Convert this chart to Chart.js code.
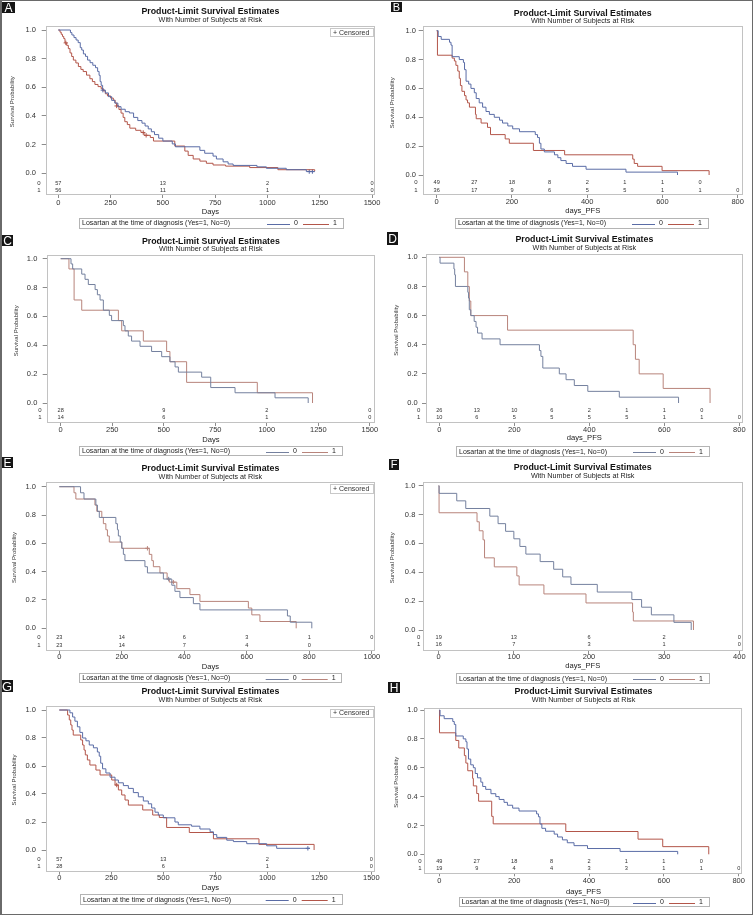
<!DOCTYPE html>
<html><head><meta charset="utf-8">
<script src="https://cdn.jsdelivr.net/npm/chart.js@4.4.1/dist/chart.umd.min.js"></script>
<style>
html,body{margin:0;padding:0;background:#fff;}
#fig{position:relative;width:753px;height:915px;overflow:hidden;background:#fff;}
#fig canvas{position:absolute;}
.badge{position:absolute;background:#151515;color:#fff;font-family:"Liberation Sans",Arial,sans-serif;display:flex;align-items:center;justify-content:center;z-index:5;line-height:1;}
#border{position:absolute;left:0;top:0;width:753px;height:915px;box-sizing:border-box;border:1px solid #6a6a6a;border-left-width:2px;z-index:6;pointer-events:none;}
</style></head><body>
<div id="fig"><div id="border"></div></div>
<script>
// ---------------- DATA ----------------
const groupLabels = ['0', '1'];
const yTicks = [0, 0.2, 0.4, 0.6, 0.8, 1.0];
const ticksDays = [0, 250, 500, 750, 1000, 1250, 1500];
const ticksPFS = [0, 200, 400, 600, 800];
const ticksDaysE = [0, 200, 400, 600, 800, 1000];
const ticksPFSF = [0, 100, 200, 300, 400];
const riskTimesDays = [0, 500, 1000, 1500];
const riskTimesPFS = [0, 100, 200, 300, 400, 500, 600, 700, 800];
const riskTimesE = [0, 200, 400, 600, 800, 1000];
const riskTimesF = [0, 100, 200, 300, 400];

// Panel A (overall survival)
const A0 = [[0,1],[58,0.982],[65,0.965],[75,0.947],[85,0.93],[95,0.912],[105,0.877],[112,0.86],[120,0.833],[130,0.816],[140,0.79],[152,0.772],[165,0.754],[178,0.737],[188,0.711],[195,0.684],[200,0.64],[205,0.614],[212,0.58],[225,0.561],[240,0.535],[255,0.509],[270,0.49],[285,0.465],[300,0.447],[320,0.43],[340,0.421],[360,0.39],[380,0.368],[400,0.35],[415,0.33],[430,0.31],[445,0.29],[460,0.27],[480,0.245],[500,0.225],[545,0.205],[560,0.185],[677,0.16],[700,0.14],[740,0.12],[756,0.1],[788,0.08],[812,0.065],[836,0.055],[950,0.045],[995,0.035],[1090,0.025],[1186,0.012],[1226,0.012]];
const A1 = [[0,1],[8,0.985],[14,0.97],[20,0.955],[26,0.94],[32,0.91],[40,0.893],[48,0.87],[56,0.84],[64,0.815],[72,0.79],[84,0.77],[96,0.745],[108,0.725],[119,0.71],[135,0.685],[151,0.66],[163,0.64],[175,0.62],[190,0.605],[205,0.59],[215,0.575],[225,0.555],[235,0.54],[250,0.525],[263,0.51],[272,0.49],[280,0.47],[290,0.445],[300,0.42],[310,0.39],[318,0.36],[330,0.34],[342,0.315],[370,0.3],[395,0.285],[410,0.265],[440,0.25],[455,0.225],[557,0.19],[605,0.155],[621,0.125],[645,0.1],[677,0.085],[708,0.07],[740,0.058],[800,0.05],[915,0.04],[1050,0.025],[1226,0.015]];
const A0cens = [[213,0.58],[1200,0.012],[1215,0.012]];
const A1cens = [[36,0.91],[279,0.47],[406,0.285],[420,0.265]];
const riskA0 = [57, 13, 2, 0];
const riskA1 = [56, 11, 1, 0];

// Panel B (PFS)
const B0 = [[0,1],[4,0.96],[12,0.94],[34,0.92],[38,0.9],[41,0.82],[60,0.8],[71,0.78],[74,0.73],[78,0.65],[85,0.63],[91,0.6],[100,0.57],[105,0.53],[113,0.5],[122,0.47],[131,0.44],[140,0.42],[153,0.4],[167,0.38],[175,0.36],[189,0.34],[202,0.32],[220,0.3],[262,0.28],[268,0.26],[273,0.22],[277,0.18],[286,0.16],[313,0.14],[322,0.12],[330,0.1],[344,0.08],[361,0.06],[397,0.04],[503,0.02],[640,0.0]];
const B1 = [[0,1],[2,0.83],[41,0.81],[47,0.79],[51,0.76],[56,0.72],[60,0.67],[63,0.62],[67,0.58],[74,0.55],[78,0.52],[82,0.5],[87,0.47],[103,0.42],[105,0.39],[118,0.36],[135,0.33],[143,0.28],[182,0.25],[193,0.22],[257,0.17],[340,0.14],[521,0.11],[525,0.08],[534,0.06],[599,0.03],[724,0.0]];
const riskB0 = [49, 27, 18, 8, 2, 1, 1, 0];
const riskB1 = [36, 17, 9, 6, 5, 5, 1, 1, 0];

// Panel C
const C0 = [[0,1],[50,0.964],[58,0.929],[102,0.893],[118,0.857],[134,0.821],[167,0.786],[178,0.75],[191,0.714],[207,0.643],[236,0.607],[247,0.571],[304,0.536],[312,0.5],[328,0.464],[344,0.429],[385,0.393],[441,0.357],[490,0.321],[530,0.286],[555,0.25],[571,0.214],[684,0.179],[728,0.107],[846,0.071],[1040,0.036],[1201,0.0]];
const C1 = [[0,1],[40,0.929],[65,0.714],[102,0.643],[280,0.571],[296,0.5],[401,0.429],[514,0.357],[530,0.286],[611,0.143],[954,0.071],[1222,0.0]];
const riskC0 = [28, 9, 2, 0];
const riskC1 = [14, 6, 1, 0];

// Panel D
const D0 = [[0,1],[2,0.96],[39,0.92],[41,0.88],[43,0.8],[76,0.76],[78,0.72],[80,0.64],[84,0.6],[93,0.56],[98,0.52],[102,0.48],[114,0.44],[162,0.4],[267,0.36],[271,0.32],[276,0.24],[320,0.2],[338,0.16],[360,0.12],[396,0.08],[480,0.04],[638,0.0]];
const D1 = [[0,1],[67,0.9],[76,0.8],[80,0.7],[84,0.6],[182,0.5],[517,0.4],[523,0.3],[533,0.2],[597,0.1],[722,0.0]];
const riskD0 = [26, 13, 10, 6, 2, 1, 1, 0];
const riskD1 = [10, 6, 5, 5, 5, 5, 1, 1, 0];

// Panel E
const E0 = [[0,1],[68,0.957],[79,0.913],[117,0.87],[122,0.826],[128,0.783],[181,0.739],[186,0.696],[189,0.652],[195,0.609],[200,0.565],[205,0.522],[210,0.478],[274,0.435],[282,0.391],[333,0.348],[360,0.304],[370,0.261],[386,0.217],[429,0.174],[450,0.13],[730,0.087],[739,0.043],[808,0.0]];
const E1 = [[0,1],[47,0.957],[53,0.913],[114,0.87],[120,0.826],[136,0.783],[141,0.739],[149,0.696],[154,0.652],[160,0.609],[200,0.565],[288,0.522],[296,0.478],[301,0.435],[322,0.391],[345,0.348],[352,0.326],[376,0.28],[418,0.238],[450,0.19],[605,0.143],[616,0.095],[642,0.048],[758,0.0]];
const E0cens = [[350,0.348]];
const E1cens = [[282,0.565],[365,0.326]];
const riskE0 = [23, 14, 6, 3, 1, 0];
const riskE1 = [23, 14, 7, 4, 0];

// Panel F
const F0 = [[0,1],[0.5,0.947],[24,0.895],[36,0.842],[68,0.789],[79,0.737],[89,0.684],[100,0.632],[108,0.579],[116,0.526],[135,0.474],[153,0.421],[165,0.368],[176,0.316],[211,0.263],[257,0.211],[270,0.158],[283,0.105],[313,0.053],[336,0.0]];
const F1 = [[0,1],[0.5,0.8125],[51,0.75],[54,0.6875],[59,0.625],[61,0.5],[74,0.4375],[104,0.375],[107,0.3125],[140,0.25],[196,0.1875],[258,0.125],[259,0.0625],[339,0.0]];
const riskF0 = [19, 13, 6, 2, 0];
const riskF1 = [16, 7, 3, 1, 0];

// Panel G
const G0 = [[0,1],[51,0.98],[64,0.95],[75,0.92],[87,0.88],[99,0.84],[112,0.8],[128,0.78],[144,0.75],[164,0.73],[183,0.7],[192,0.67],[199,0.62],[208,0.58],[224,0.55],[244,0.52],[268,0.5],[284,0.48],[308,0.46],[332,0.44],[356,0.41],[380,0.38],[404,0.35],[428,0.33],[444,0.3],[460,0.27],[476,0.25],[500,0.23],[556,0.2],[572,0.18],[636,0.17],[676,0.15],[725,0.13],[741,0.11],[757,0.09],[805,0.07],[837,0.06],[901,0.045],[997,0.03],[1045,0.012],[1205,0.012]];
const G1 = [[0,1],[40,0.964],[48,0.929],[55,0.893],[61,0.857],[67,0.821],[103,0.786],[112,0.75],[119,0.714],[125,0.679],[135,0.643],[147,0.607],[176,0.571],[196,0.536],[252,0.5],[268,0.464],[284,0.429],[300,0.393],[316,0.357],[332,0.321],[401,0.286],[449,0.25],[481,0.232],[516,0.161],[625,0.125],[741,0.08],[960,0.04],[1225,0.0]];
const G0cens = [[1195,0.012]];
const G1cens = [[276,0.464]];
const riskG0 = [57, 13, 2, 0];
const riskG1 = [28, 6, 1, 0];

// Panel H
const H0 = [[0,1],[2,0.96],[13,0.94],[36,0.92],[40,0.9],[44,0.82],[64,0.8],[71,0.78],[74,0.73],[78,0.66],[84,0.62],[91,0.6],[96,0.56],[102,0.53],[111,0.5],[116,0.47],[124,0.45],[138,0.42],[151,0.4],[160,0.38],[173,0.36],[182,0.34],[196,0.32],[213,0.3],[260,0.28],[265,0.26],[269,0.21],[274,0.18],[284,0.16],[307,0.14],[316,0.12],[329,0.1],[342,0.08],[360,0.06],[396,0.04],[483,0.02],[637,0.0]];
const H1 = [[0,1],[0.5,0.842],[44,0.789],[52,0.737],[67,0.684],[71,0.632],[76,0.579],[89,0.526],[91,0.474],[100,0.421],[105,0.368],[140,0.263],[144,0.211],[338,0.158],[531,0.105],[597,0.053],[720,0.0]];
const riskH0 = [49, 27, 18, 8, 2, 1, 1, 0];
const riskH1 = [19, 9, 4, 4, 3, 3, 1, 1, 0];

// ---------------- TEXT ----------------
const TITLE = 'Product-Limit Survival Estimates';
const SUBTITLE = 'With Number of Subjects at Risk';
const Y_TITLE = 'Survival Probability';
const LEGEND_TITLE = 'Losartan at the time of diagnosis (Yes=1, No=0)';
const CENSORED = '+ Censored';

// ---------------- LAYOUT / STYLE ----------------
const FONT = '"Liberation Sans", Arial, sans-serif';
const FRAME = '#c2c2c2';
const COL_STRONG = ['#5a6ca6', '#b3564a'];
const COL_SOFT = ['#74809e', '#b8847b'];

const PANELS = [
 {key:'A', s0:A0, s1:A1, c0:A0cens, c1:A1cens, r0:riskA0, r1:riskA1, rt:riskTimesDays, xt:ticksDays, xTitle:'Days', col:COL_STRONG,
  cx:0,cy:0,cw:392,ch:230,L:45.7,T:26,R:375,B:195,x0px:58.3,xr:1500,xrpx:372,y1px:30,y0px:173.3,titleY:11.7,subY:19.3,r0Y:183,r1Y:190.7,tickY:202.7,xTitleY:212.3,yTitleX:12.7,rowX:39,yLabR:36,leg:[79,218,343,228],cen:[330,28.3,373,36.7],badge:[2,2,13,11]},
 {key:'B', s0:B0, s1:B1, r0:riskB0, r1:riskB1, rt:riskTimesPFS, xt:ticksPFS, xTitle:'days_PFS', col:COL_STRONG,
  cx:376,cy:0,cw:377,ch:230,L:422.7,T:26,R:742.7,B:195,x0px:436.7,xr:800,xrpx:737.7,y1px:30.7,y0px:175,titleY:13.3,subY:20.7,r0Y:182.7,r1Y:190,tickY:201.7,xTitleY:210.7,yTitleX:392,rowX:416,yLabR:416,leg:[455,218,708,228],badge:[391,2,11,10]},
 {key:'C', s0:C0, s1:C1, r0:riskC0, r1:riskC1, rt:riskTimesDays, xt:ticksDays, xTitle:'Days', col:COL_SOFT,
  cx:0,cy:228,cw:392,ch:230,L:46.7,T:254.7,R:375,B:423,x0px:60.7,xr:1250,xrpx:318.3,y1px:258.7,y0px:403,titleY:241.3,subY:248,r0Y:410.7,r1Y:417.3,tickY:429.7,xTitleY:439.7,yTitleX:16,rowX:40,yLabR:37.3,leg:[79,446.3,342,455.7],badge:[2,235,11,11]},
 {key:'D', s0:D0, s1:D1, r0:riskD0, r1:riskD1, rt:riskTimesPFS, xt:ticksPFS, xTitle:'days_PFS', col:COL_SOFT,
  cx:376,cy:228,cw:377,ch:230,L:426,T:254,R:742.7,B:423,x0px:439.3,xr:800,xrpx:739.3,y1px:257.3,y0px:403,titleY:239.7,subY:247.3,r0Y:410.7,r1Y:417.3,tickY:429.7,xTitleY:438,yTitleX:396,rowX:418.7,yLabR:417.7,leg:[456,446.3,709,456],badge:[387,232,11,13]},
 {key:'E', s0:E0, s1:E1, c0:E0cens, c1:E1cens, r0:riskE0, r1:riskE1, rt:riskTimesE, xt:ticksDaysE, xTitle:'Days', col:COL_SOFT,
  cx:0,cy:455,cw:392,ch:230,L:45.7,T:482.3,R:375,B:651,x0px:59.3,xr:800,xrpx:309.3,y1px:486.7,y0px:628.3,titleY:469,subY:475.7,r0Y:637.7,r1Y:645,tickY:657.3,xTitleY:667.3,yTitleX:14,rowX:39,yLabR:36,leg:[79.3,673.3,341.7,682.7],cen:[330,484.3,373,493.3],badge:[2,457,11,11]},
 {key:'F', s0:F0, s1:F1, r0:riskF0, r1:riskF1, rt:riskTimesF, xt:ticksPFSF, xTitle:'days_PFS', col:COL_SOFT,
  cx:376,cy:455,cw:377,ch:230,L:422.7,T:482.3,R:742.7,B:651,x0px:438.7,xr:400,xrpx:739.3,y1px:485.7,y0px:630,titleY:467.7,subY:475,r0Y:637.7,r1Y:644.3,tickY:656.7,xTitleY:665.7,yTitleX:392.7,rowX:418.7,yLabR:415.3,leg:[456,673.3,709,683.3],badge:[389,459,10,11]},
 {key:'G', s0:G0, s1:G1, c0:G0cens, c1:G1cens, r0:riskG0, r1:riskG1, rt:riskTimesDays, xt:ticksDays, xTitle:'Days', col:COL_STRONG,
  cx:0,cy:683,cw:392,ch:232,L:45.7,T:705.7,R:375,B:871.7,x0px:59.3,xr:1250,xrpx:319.3,y1px:710,y0px:850,titleY:691.7,subY:699.3,r0Y:859,r1Y:866,tickY:878.3,xTitleY:888.3,yTitleX:14,rowX:39,yLabR:36,leg:[80,894.3,341.7,904.3],cen:[330,709,372.7,717],badge:[1,680,12,12]},
 {key:'H', s0:H0, s1:H1, r0:riskH0, r1:riskH1, rt:riskTimesPFS, xt:ticksPFS, xTitle:'days_PFS', col:COL_STRONG,
  cx:376,cy:683,cw:377,ch:232,L:424.3,T:707.7,R:742.7,B:873.3,x0px:439.3,xr:800,xrpx:738.7,y1px:710,y0px:854.3,titleY:691.7,subY:699.3,r0Y:861.7,r1Y:868.3,tickY:881,xTitleY:891.7,yTitleX:396.7,rowX:420,yLabR:417.7,leg:[458.7,897.3,709,906.7],badge:[388,682,12,11]}
];

const TITLE_SIZE = 8.8, SUB_SIZE = 7.2, TICK_SIZE = 7.5, XT_SIZE = 7.6, RISK_SIZE = 5.6;

function decorPlugin(p) {
  return {
    id: 'decor' + p.key,
    beforeDatasetsDraw(chart) {
      const {ctx, chartArea: a} = chart;
      ctx.save();
      ctx.strokeStyle = FRAME; ctx.lineWidth = 1;
      ctx.strokeRect(Math.round(a.left) + 0.5, Math.round(a.top) + 0.5, Math.round(a.right - a.left) - 1, Math.round(a.bottom - a.top) - 1);
      ctx.restore();
    },
    afterDraw(chart) {
      const {ctx, scales: {x, y}} = chart;
      const ox = p.cx, oy = p.cy;
      // y axis title
      ctx.save();
      ctx.fillStyle = '#333'; ctx.font = `6px ${FONT}`;
      ctx.textAlign = 'center'; ctx.textBaseline = 'middle';
      ctx.translate(p.yTitleX - ox, (y.getPixelForValue(0) + y.getPixelForValue(1)) / 2);
      ctx.rotate(-Math.PI / 2);
      ctx.fillText(Y_TITLE, 0, 0);
      ctx.restore();
      // at-risk table
      ctx.save();
      ctx.fillStyle = '#333'; ctx.textAlign = 'center'; ctx.textBaseline = 'middle';
      ctx.font = `6px ${FONT}`;
      ctx.fillText(groupLabels[0], p.rowX - ox, p.r0Y - oy);
      ctx.fillText(groupLabels[1], p.rowX - ox, p.r1Y - oy);
      ctx.font = `${RISK_SIZE}px ${FONT}`;
      p.r0.forEach((n, i) => ctx.fillText(String(n), x.getPixelForValue(p.rt[i]), p.r0Y - oy));
      p.r1.forEach((n, i) => ctx.fillText(String(n), x.getPixelForValue(p.rt[i]), p.r1Y - oy));
      ctx.restore();
      // legend
      const [l, t, r, b] = p.leg;
      ctx.save();
      ctx.strokeStyle = '#b4b4b4'; ctx.lineWidth = 1;
      ctx.strokeRect(Math.round(l - ox) + 0.5, Math.round(t - oy) + 0.5, Math.round(r - l), Math.round(b - t));
      const my = (t + b) / 2 - oy + 0.5;
      ctx.fillStyle = '#222'; ctx.font = `7px ${FONT}`; ctx.textBaseline = 'middle';
      ctx.textAlign = 'left';
      ctx.fillText(LEGEND_TITLE, l - ox + 3, my);
      ctx.textAlign = 'center';
      ctx.fillText(groupLabels[0], r - ox - 47, my);
      ctx.fillText(groupLabels[1], r - ox - 8, my);
      ctx.lineWidth = 1;
      ctx.strokeStyle = p.col[0];
      ctx.beginPath(); ctx.moveTo(r - ox - 76, Math.round(my) + 0.5); ctx.lineTo(r - ox - 53, Math.round(my) + 0.5); ctx.stroke();
      ctx.strokeStyle = p.col[1];
      ctx.beginPath(); ctx.moveTo(r - ox - 40, Math.round(my) + 0.5); ctx.lineTo(r - ox - 14, Math.round(my) + 0.5); ctx.stroke();
      ctx.restore();
      // censored inset legend
      if (p.cen) {
        const [cl, ct, cr, cb] = p.cen;
        ctx.save();
        ctx.strokeStyle = '#c8c8c8'; ctx.lineWidth = 1;
        ctx.strokeRect(Math.round(cl - ox) + 0.5, Math.round(ct - oy) + 0.5, Math.round(cr - cl), Math.round(cb - ct));
        ctx.fillStyle = '#333'; ctx.font = `7px ${FONT}`; ctx.textAlign = 'left'; ctx.textBaseline = 'middle';
        ctx.fillText(CENSORED, cl - ox + 3, (ct + cb) / 2 - oy + 0.5);
        ctx.restore();
      }
    }
  };
}

function kmSet(pairs, color, label) {
  return {label, data: pairs.map(([t, s]) => ({x: t, y: s})), borderColor: color, borderWidth: 1,
    stepped: true, pointRadius: 0, pointHoverRadius: 0, fill: false, tension: 0};
}
function censSet(pairs, color, label) {
  return {label, data: pairs.map(([t, s]) => ({x: t, y: s})), borderColor: color, backgroundColor: color,
    showLine: false, pointStyle: 'cross', pointRadius: 2.2, pointBorderWidth: 1, borderWidth: 1};
}

const fig = document.getElementById('fig');
PANELS.forEach(p => {
  const cv = document.createElement('canvas');
  cv.width = p.cw; cv.height = p.ch;
  cv.style.left = p.cx + 'px'; cv.style.top = p.cy + 'px';
  cv.style.width = p.cw + 'px'; cv.style.height = p.ch + 'px';
  fig.appendChild(cv);

  const L = p.L - p.cx, R = p.R - p.cx, T = p.T - p.cy, B = p.B - p.cy;
  const pxu = (p.xrpx - p.x0px) / p.xr;
  const xmin = -(p.x0px - p.L) / pxu, xmax = (p.R - p.x0px) / pxu;
  const pyu = p.y0px - p.y1px;
  const ymax = 1 + (p.y1px - p.T) / pyu, ymin = -(p.B - p.y0px) / pyu;

  const titleY = p.titleY - p.cy, subY = p.subY - p.cy;
  const tPadTop = titleY - TITLE_SIZE / 2;
  const titleH = titleY + TITLE_SIZE / 2;
  const sPadTop = Math.max(0, subY - SUB_SIZE / 2 - titleH);
  const sPadBot = Math.max(0, T - (titleH + sPadTop + SUB_SIZE));

  const xtLH = XT_SIZE * 1.2;
  const Hx = (p.xTitleY - p.cy) - B + xtLH / 2;
  const padBottom = p.ch - B - Hx;
  const tickPad = (p.tickY - p.cy) - B - 3 - TICK_SIZE / 2;
  const yTickLen = 4;
  const yTickPad = (p.L - p.yLabR) - yTickLen;

  const datasets = [kmSet(p.s0, p.col[0], groupLabels[0]), kmSet(p.s1, p.col[1], groupLabels[1])];
  if (p.c0) datasets.push(censSet(p.c0, p.col[0], 'cens0'));
  if (p.c1) datasets.push(censSet(p.c1, p.col[1], 'cens1'));

  new Chart(cv, {
    type: 'line',
    data: {datasets},
    options: {
      responsive: false, animation: false, events: [],
      layout: {autoPadding: false, padding: {left: 0, top: 0, right: p.cw - R, bottom: padBottom}},
      plugins: {
        legend: {display: false}, tooltip: {enabled: false},
        title: {display: true, text: TITLE, fullSize: false, color: '#111',
          font: {family: FONT, size: TITLE_SIZE, weight: 'bold', lineHeight: 1}, padding: {top: tPadTop, bottom: 0}},
        subtitle: {display: true, text: SUBTITLE, fullSize: false, color: '#222',
          font: {family: FONT, size: SUB_SIZE, lineHeight: 1}, padding: {top: sPadTop, bottom: sPadBot}}
      },
      scales: {
        x: {type: 'linear', position: 'bottom', min: xmin, max: xmax,
          afterBuildTicks: s => { s.ticks = p.xt.map(v => ({value: v})); },
          afterFit: s => { s.height = Hx; },
          ticks: {autoSkip: false, maxRotation: 0, padding: tickPad, color: '#333',
            font: {family: FONT, size: TICK_SIZE, lineHeight: 1}, callback: v => String(v)},
          grid: {display: true, drawOnChartArea: false, drawTicks: true, tickLength: 3, color: '#8c8c8c'},
          border: {display: false},
          title: {display: true, text: p.xTitle, color: '#222', padding: 0, font: {family: FONT, size: XT_SIZE}}
        },
        y: {type: 'linear', position: 'left', min: ymin, max: ymax,
          afterBuildTicks: s => { s.ticks = yTicks.map(v => ({value: v})); },
          afterFit: s => { s.width = L; },
          ticks: {autoSkip: false, padding: yTickPad, color: '#333',
            font: {family: FONT, size: TICK_SIZE, lineHeight: 1}, callback: v => Number(v).toFixed(1)},
          grid: {display: true, drawOnChartArea: false, drawTicks: true, tickLength: yTickLen, color: '#8c8c8c'},
          border: {display: false},
          title: {display: false}
        }
      }
    },
    plugins: [decorPlugin(p)]
  });

  const bd = document.createElement('div');
  bd.className = 'badge';
  const [bx, by, bw, bh] = p.badge;
  bd.style.left = bx + 'px'; bd.style.top = by + 'px';
  bd.style.width = bw + 'px'; bd.style.height = bh + 'px';
  bd.style.fontSize = (Math.min(bw, bh) + 1) + 'px';
  bd.textContent = p.key;
  fig.appendChild(bd);
});
</script>
</body></html>
